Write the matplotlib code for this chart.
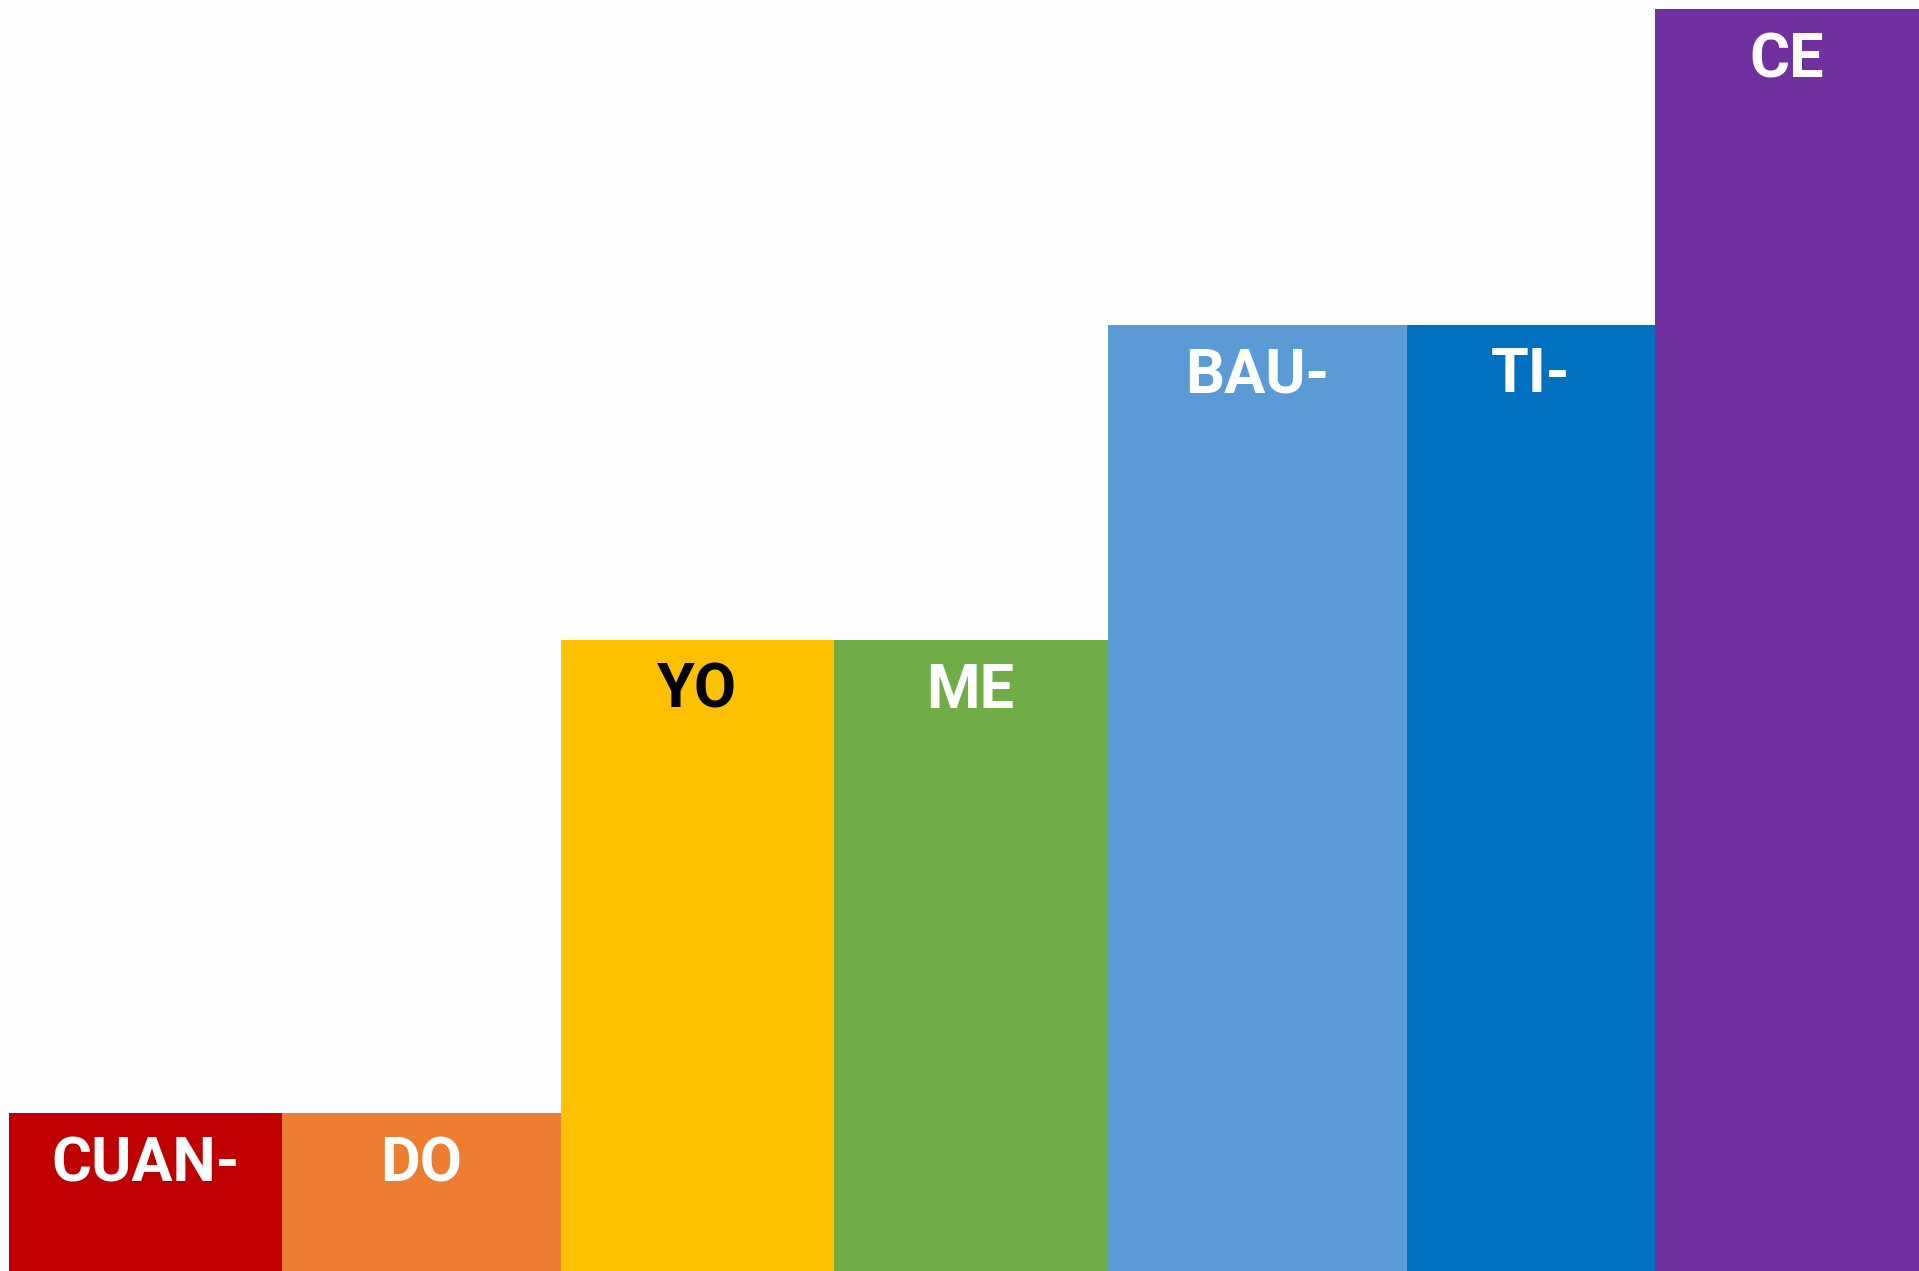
"""Syllable staircase: CUAN-DO YO ME BAU-TI-CE."""

import matplotlib

matplotlib.use("Agg")
import matplotlib.pyplot as plt
import numpy as np

syllables = ["CUAN-", "DO", "YO", "ME", "BAU-", "TI-", "CE"]
levels = [1, 1, 4, 4, 6, 6, 8]
colors = ["#C00000", "#ED7D31", "#FFC000", "#70AD47", "#5B9BD5", "#0070C0", "#7030A0"]
text_colors = ["white", "white", "black", "white", "white", "white", "white"]

# layout (pixel units of the 1919x1271 canvas)
W, H = 1919, 1271
LEFT = 8.6
BAR_W = [273, 279, 273, 274, 299, 248, 264]
UNIT = 157.75  # px per level

fig = plt.figure(figsize=(W / 100, H / 100), dpi=100)
fig.patch.set_facecolor("#FEFEFE")
ax = fig.add_axes([0, 0, 1, 1])
ax.set_facecolor("#FEFEFE")
ax.set_xlim(0, W)
ax.set_ylim(0, H / UNIT)
ax.axis("off")

lefts = LEFT + np.concatenate([[0], np.cumsum(BAR_W)[:-1]])
ax.bar(lefts, levels, width=BAR_W, align="edge", color=colors, linewidth=0)

for x, w, lvl, lab, tc in zip(lefts, BAR_W, levels, syllables, text_colors):
    ax.text(x + w / 2, lvl - 68 / UNIT, lab, ha="center", va="baseline",
            fontsize=44, fontweight="bold", family=["Roboto", "DejaVu Sans"], color=tc)

fig.savefig("out.png", dpi=100, facecolor=fig.get_facecolor())
